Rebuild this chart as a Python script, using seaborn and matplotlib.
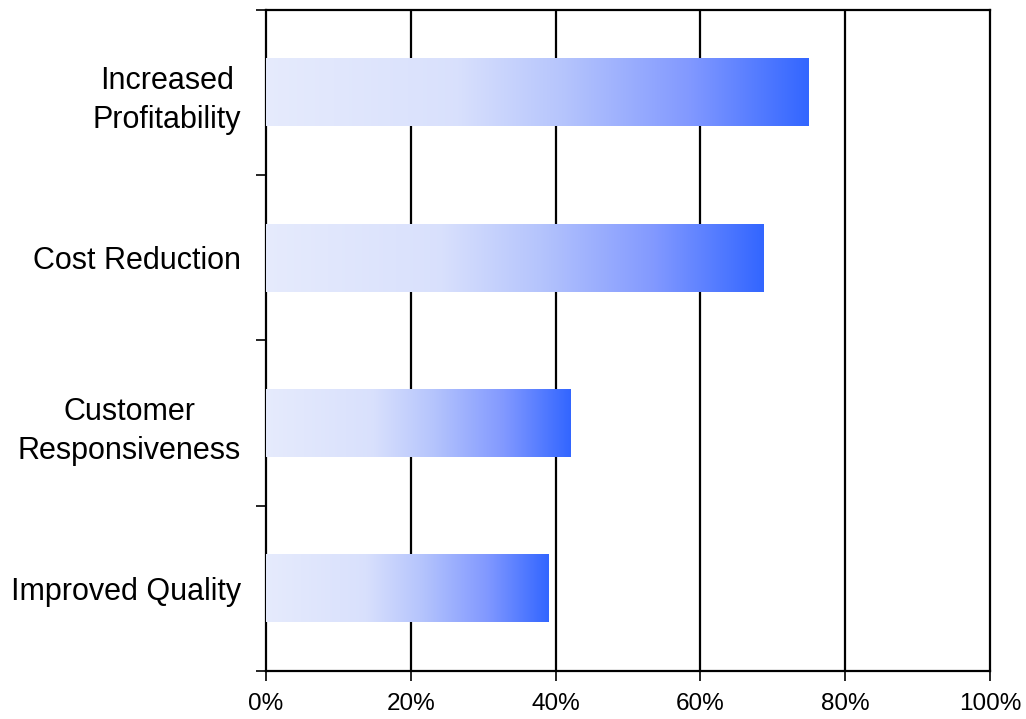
import numpy as np
import pandas as pd
import seaborn as sns
import matplotlib.pyplot as plt
from matplotlib.colors import LinearSegmentedColormap

# data
categories = ["Increased\nProfitability", "Cost Reduction",
              "Customer\nResponsiveness", "Improved Quality"]
values = [0.75, 0.687, 0.42, 0.39]
xticks = [0, 0.2, 0.4, 0.6, 0.8, 1.0]
xtick_labels = ["0%", "20%", "40%", "60%", "80%", "100%"]

df = pd.DataFrame({"category": categories, "value": values})

sns.set_style("white")
plt.rcParams["font.family"] = ["Liberation Sans", "DejaVu Sans"]
plt.rcParams["text.color"] = "black"
plt.rcParams["xtick.color"] = "black"
plt.rcParams["ytick.color"] = "black"

fig = plt.figure(figsize=(10.26, 7.19), dpi=100)
ax = fig.add_axes([0.2593, 0.0668, 0.7056, 0.9193])

sns.barplot(data=df, x="value", y="category", orient="h", width=0.41,
            color="white", ax=ax)

# gradient fill for each bar, light on the left to blue on the right
cmap = LinearSegmentedColormap.from_list("grad", [
    (0.0, (0.90, 0.92, 0.99)),
    (0.35, (0.85, 0.88, 0.99)),
    (0.55, (0.71, 0.77, 0.99)),
    (0.78, (0.51, 0.60, 1.0)),
    (1.0, (0.20, 0.40, 1.0)),
])
grad = np.linspace(0, 1, 256).reshape(1, -1)
for p in list(ax.patches):
    x0, y0 = p.get_x(), p.get_y()
    w, h = p.get_width(), p.get_height()
    p.set_facecolor("none")
    p.set_edgecolor("none")
    ax.imshow(grad, cmap=cmap, aspect="auto", interpolation="bilinear",
              extent=(x0, x0 + w, y0 + h, y0), zorder=3)

ax.set_xlim(0, 1.0)
ax.set_ylim(3.5, -0.5)
ax.set_xlabel("")
ax.set_ylabel("")

# vertical gridlines
for gx in xticks[1:-1]:
    ax.axvline(gx, color="black", lw=1.6, zorder=1)

for s in ax.spines.values():
    s.set_visible(True)
    s.set_color("black")
    s.set_linewidth(1.6)

ax.set_xticks(xticks)
ax.set_xticklabels(xtick_labels, fontsize=17.5, color="black")
ax.tick_params(axis="x", direction="out", length=7, width=1.2,
               color="black", pad=9, bottom=True)

ax.set_yticks(range(len(categories)))
ax.set_yticklabels(categories, fontsize=22, multialignment="center",
                   linespacing=1.4, color="black")
ax.tick_params(axis="y", which="major", length=0, pad=18)
ax.set_yticks([-0.5, 0.5, 1.5, 2.5, 3.5], minor=True)
ax.tick_params(axis="y", which="minor", direction="out", length=7,
               width=1.2, color="black", left=True)

fig.savefig("out.png", dpi=100)
